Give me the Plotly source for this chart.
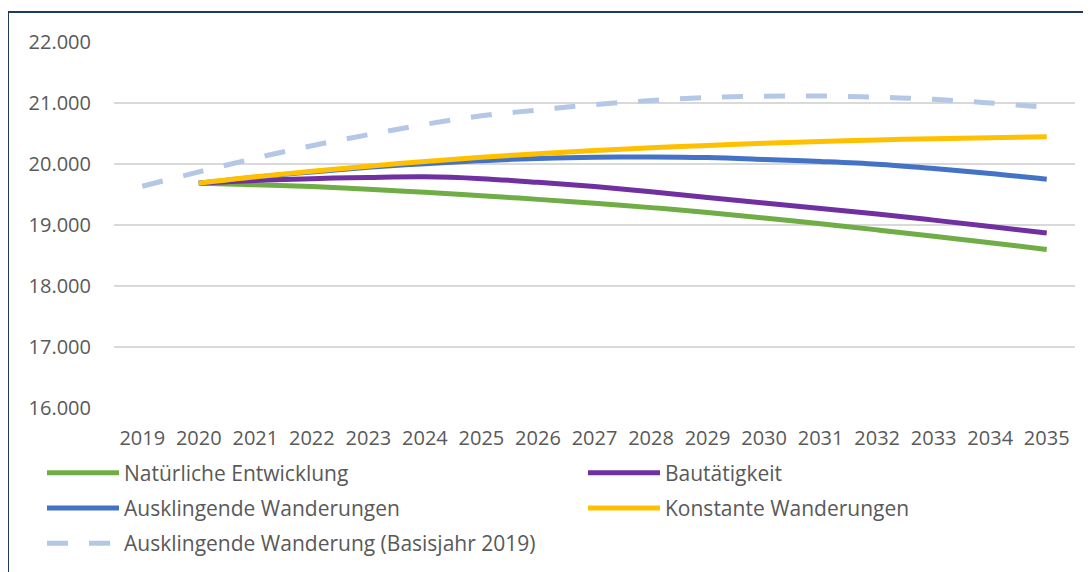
import plotly.graph_objects as go

years = [str(y) for y in range(2019, 2036)]

natuerlich = [None, 19685, 19660, 19630, 19585, 19535, 19480, 19420, 19355, 19285, 19205, 19115,
              19020, 18920, 18815, 18710, 18600]
bautaetigkeit = [None, 19685, 19730, 19760, 19780, 19790, 19760, 19700, 19630, 19545, 19450, 19360,
                 19270, 19180, 19080, 18975, 18870]
ausklingend = [None, 19685, 19785, 19870, 19945, 20005, 20055, 20090, 20110, 20115, 20105, 20075,
               20040, 19995, 19925, 19845, 19750]
konstant = [None, 19685, 19790, 19880, 19965, 20040, 20110, 20170, 20220, 20265, 20305, 20340,
            20370, 20395, 20415, 20430, 20445]
basis2019 = [19635, 19870, 20095, 20300, 20480, 20650, 20790, 20885, 20975, 21040, 21090, 21112,
             21115, 21095, 21060, 21000, 20930]

names = ["Natürliche Entwicklung", "Bautätigkeit", "Ausklingende Wanderungen",
         "Konstante Wanderungen", "Ausklingende Wanderung (Basisjahr 2019)"]
colors = ["#70AD47", "#7030A0", "#4472C4", "#FFC000", "#B4C7E7"]

LW = 5
fig = go.Figure()
# drawing order: dashed, green, purple, blue, yellow (on top)
fig.add_trace(go.Scatter(x=years, y=basis2019, name=names[4], mode="lines", legend="legend",
                         legendgroup="e", legendrank=3,
                         line=dict(color=colors[4], width=LW, dash="21px,21px", shape="spline")))
fig.add_trace(go.Scatter(x=years, y=natuerlich, name=names[0], mode="lines", legend="legend",
                         legendgroup="a", legendrank=1,
                         line=dict(color=colors[0], width=LW, shape="spline")))
fig.add_trace(go.Scatter(x=years, y=bautaetigkeit, name=names[1], mode="lines", legend="legend2",
                         legendgroup="b", legendrank=1,
                         line=dict(color=colors[1], width=LW, shape="spline")))
fig.add_trace(go.Scatter(x=years, y=ausklingend, name=names[2], mode="lines", legend="legend",
                         legendgroup="c", legendrank=2,
                         line=dict(color=colors[2], width=LW, shape="spline")))
fig.add_trace(go.Scatter(x=years, y=konstant, name=names[3], mode="lines", legend="legend2",
                         legendgroup="d", legendrank=2,
                         line=dict(color=colors[3], width=LW, shape="spline")))

font = dict(family="Open Sans", size=20, color="#595959")
lfont = dict(family="Open Sans", size=21, color="#595959")

# figure sits at (8, 8) in the page because of the default body margin
W, H = 1083, 564
L, R, T, B = 106, 16, 34, 164
PW, PH = W - L - R, H - T - B


def px(x):
    return (x - L) / PW


def py(y):
    return (T + PH - y) / PH


legend_common = dict(orientation="v", xanchor="left", yanchor="top", itemwidth=72,
                     font=lfont, tracegroupgap=5, bgcolor="rgba(0,0,0,0)",
                     traceorder="grouped", borderwidth=0)

fig.update_layout(
    width=W, height=H,
    margin=dict(l=L, r=R, t=T, b=B, autoexpand=False),
    paper_bgcolor="white", plot_bgcolor="white",
    separators=",.",
    font=font,
    showlegend=True,
    legend=dict(x=px(34), y=py(444.5), **legend_common),
    legend2=dict(x=px(575), y=py(444.5), **legend_common),
    xaxis=dict(type="category", range=[-0.5, 16.5], showgrid=False, zeroline=False,
               showline=False, ticks="", tickfont=font, ticklabelstandoff=16),
    yaxis=dict(range=[16000, 22000], dtick=1000, tickformat=",", showgrid=True,
               gridcolor="#D9D9D9", gridwidth=1.5, zeroline=False, showline=False,
               ticks="", tickfont=font, ticklabelstandoff=22),
    shapes=[
        dict(type="line", xref="paper", yref="paper", x0=px(0), x1=px(W),
             y0=py(4), y1=py(4), line=dict(color="#1F3864", width=2)),
        dict(type="line", xref="paper", yref="paper", x0=px(0), x1=px(0),
             y0=py(4), y1=py(H + 10), line=dict(color="#1F3864", width=2)),
    ],
)

fig.write_html("out.html")
